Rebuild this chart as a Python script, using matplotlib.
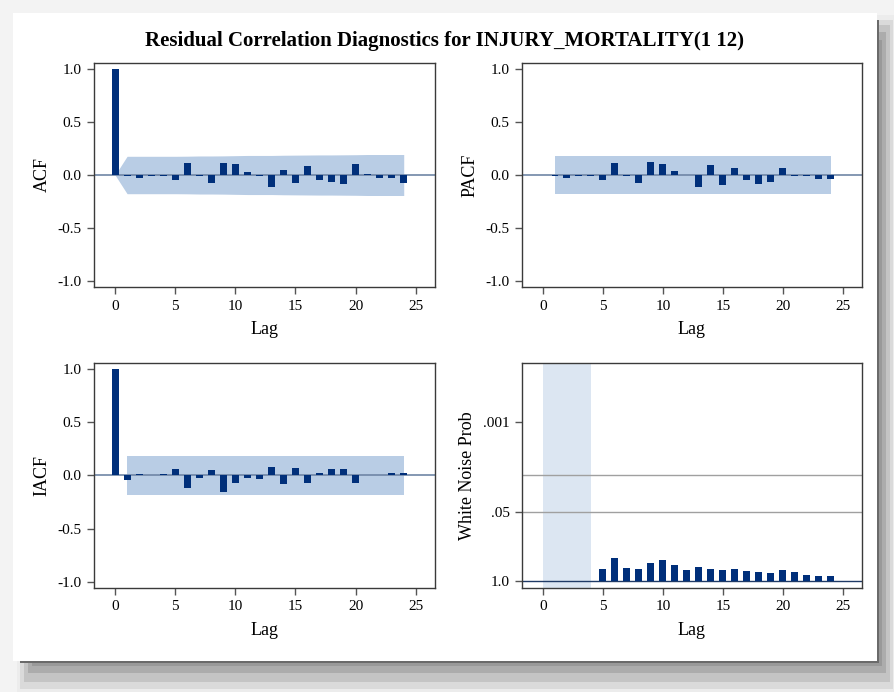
import numpy as np
import matplotlib
matplotlib.use("Agg")
import matplotlib.pyplot as plt
from matplotlib.patches import Rectangle

# ---------------- data ----------------
title = "Residual Correlation Diagnostics for INJURY_MORTALITY(1 12)"
lags = list(range(0, 25))

acf = [1.0, -0.01, -0.025, -0.01, -0.01, -0.047, 0.114, -0.005, -0.079, 0.117,
       0.10, 0.032, -0.005, -0.114, 0.05, -0.073, 0.088, -0.047, -0.066, -0.082,
       0.107, 0.005, -0.025, -0.03, -0.076]
acf_band = [0.0, 0.177, 0.177, 0.177, 0.177, 0.177, 0.178, 0.180, 0.180, 0.181,
            0.183, 0.185, 0.185, 0.185, 0.187, 0.188, 0.189, 0.190, 0.190, 0.191,
            0.192, 0.194, 0.194, 0.194, 0.194]

pacf_lags = list(range(1, 25))
pacf = [-0.005, -0.025, -0.01, -0.01, -0.05, 0.114, -0.005, -0.079, 0.12, 0.104,
        0.041, 0.0, -0.114, 0.095, -0.098, 0.063, -0.047, -0.085, -0.066, 0.066,
        -0.005, -0.005, -0.04, -0.04]
pacf_band = 0.18

iacf = [1.0, -0.038, 0.01, 0.005, 0.013, 0.057, -0.117, -0.025, 0.05, -0.158,
        -0.07, -0.025, -0.032, 0.079, -0.082, 0.073, -0.066, 0.019, 0.057, 0.057,
        -0.066, 0.0, 0.005, 0.025, 0.025]
iacf_band = 0.18

wn_lags = list(range(5, 25))
wn_prob = [0.575, 0.356, 0.558, 0.592, 0.443, 0.394, 0.497, 0.610, 0.542, 0.583,
           0.618, 0.592, 0.645, 0.675, 0.686, 0.618, 0.675, 0.746, 0.793, 0.793]
wn_ticks = [0.001, 0.05, 1.0]
wn_tick_labels = [".001", ".05", "1.0"]
wn_grid = [0.01, 0.05]
wn_unavail = (0, 4)

corr_ticks = [-1.0, -0.5, 0.0, 0.5, 1.0]
corr_tick_labels = ["-1.0", "-0.5", "0.0", "0.5", "1.0"]
x_ticks = [0, 5, 10, 15, 20, 25]

# ---------------- style ----------------
W, H = 895, 692
BAR = "#002f7a"
BAND = "#b9cde5"
BAND_LIGHT = "#dce6f2"
ZERO = "#6f86a6"
SERIF = ["Liberation Serif", "DejaVu Serif"]
plt.rcParams["font.family"] = SERIF

fig = plt.figure(figsize=(W / 100, H / 100), dpi=100)
fig.patch.set_facecolor("#f3f3f3")


def fr(x0, y0, x1, y1):
    return (x0 / W, 1 - y1 / H, (x1 - x0) / W, (y1 - y0) / H)


def rect(x0, y0, x1, y1, color, z=0, **kw):
    l, b, w, h = fr(x0, y0, x1, y1)
    fig.add_artist(Rectangle((l, b), w, h, transform=fig.transFigure,
                             facecolor=color, edgecolor="none", zorder=z, **kw))


# drop shadow
rect(17, 15, 895, 692, "#ececec", z=-10)
rect(20, 20, 893, 689, "#dadada", z=-9)
rect(24, 25, 890, 682, "#c4c4c4", z=-8)
rect(28, 32, 886, 673, "#acacac", z=-7)
rect(32, 40, 882, 666, "#999999", z=-6)
# dark border line right/bottom
rect(20, 20, 879, 663, "#6a6a6a", z=-5)
rect(13, 13, 877, 661, "white", z=-4)

fig.text(445 / W, 1 - 41 / H, title, ha="center", va="center",
         fontsize=15, fontweight="bold", family=SERIF)


def make_ax(x0, y0, x1, y1):
    ax = fig.add_axes(fr(x0, y0, x1, y1))
    ax.set_facecolor("none")
    for s in ax.spines.values():
        s.set_color("#3a3a3a")
        s.set_linewidth(1.0)
    ax.tick_params(axis="both", direction="out", length=5, width=1,
                   color="#555555", labelsize=11, pad=4)
    ax.set_xlim(-1.75, 26.6)
    ax.set_xticks(x_ticks)
    ax.set_xlabel("Lag", fontsize=13, labelpad=6)
    return ax


def corr_panel(ax, lag_vals, vals, ylabel):
    ax.set_ylim(-1.06, 1.06)
    ax.set_yticks(corr_ticks)
    ax.set_yticklabels(corr_tick_labels)
    ax.axhline(0, color=ZERO, lw=1.2, zorder=2)
    ax.bar(lag_vals, vals, width=0.58, color=BAR, edgecolor="none", zorder=3)
    ax.set_ylabel(ylabel, fontsize=13, labelpad=5)


# ACF
ax1 = make_ax(94, 63, 435, 287)
ax1.fill_between(lags, [-b for b in acf_band], acf_band, color=BAND,
                 linewidth=0, zorder=1)
corr_panel(ax1, lags, acf, "ACF")

# PACF
ax2 = make_ax(522, 63, 862, 287)
ax2.fill_between([pacf_lags[0], pacf_lags[-1]], -pacf_band, pacf_band,
                 color=BAND, linewidth=0, zorder=1)
corr_panel(ax2, pacf_lags, pacf, "PACF")

# IACF
ax3 = make_ax(94, 363, 435, 588)
ax3.fill_between([1, 24], -iacf_band, iacf_band, color=BAND,
                 linewidth=0, zorder=1)
corr_panel(ax3, lags, iacf, "IACF")

# White noise
ax4 = make_ax(522, 363, 862, 588)
wn_y = [-np.log10(p) for p in wn_prob]
ax4.set_ylim(-0.127, 4.12)
ax4.axvspan(wn_unavail[0], wn_unavail[1], color=BAND_LIGHT, linewidth=0, zorder=0)
for g in wn_grid:
    ax4.axhline(-np.log10(g), color="#a0a0a0", lw=1.0, zorder=1)
ax4.axhline(0, color="#1f3a66", lw=1.0, zorder=2)
ax4.bar(wn_lags, wn_y, width=0.58, color=BAR, edgecolor="none", zorder=3)
ax4.set_yticks([-np.log10(t) for t in wn_ticks])
ax4.set_yticklabels(wn_tick_labels)
ax4.set_ylabel("White Noise Prob", fontsize=13, labelpad=5)

fig.savefig("out.png", dpi=100, facecolor=fig.get_facecolor())
